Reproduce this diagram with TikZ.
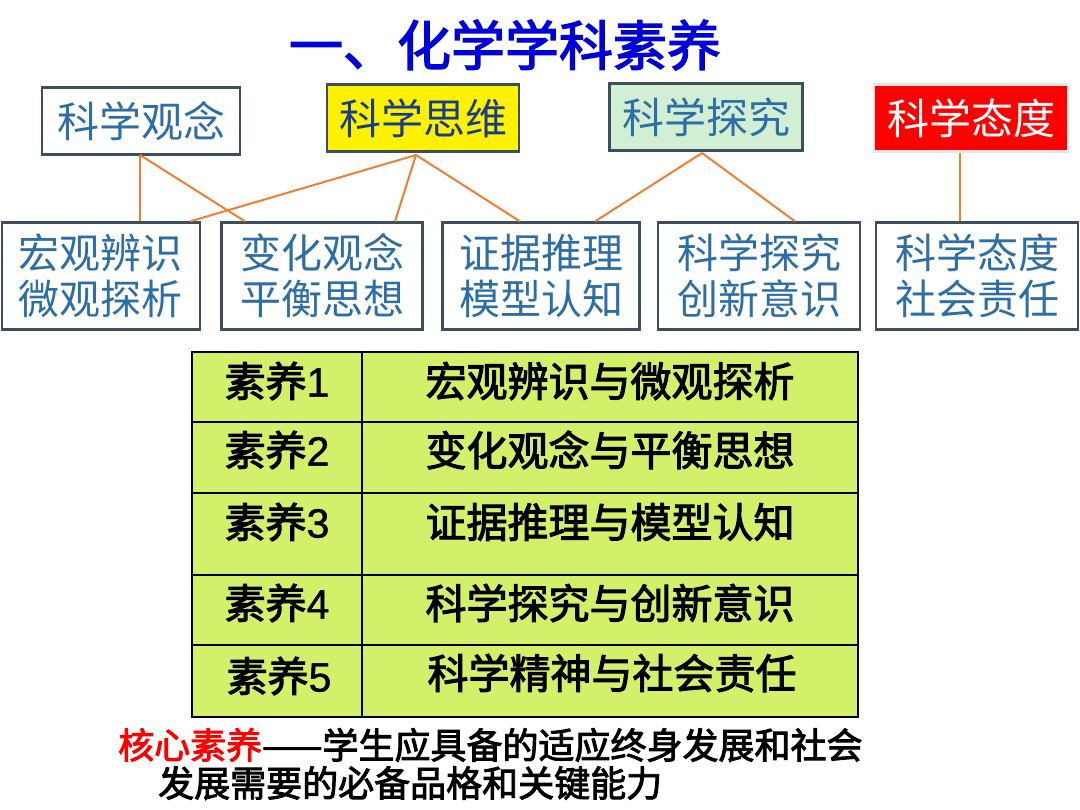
\documentclass[tikz,border=0pt]{standalone}
\usepackage{fontspec}
\setmainfont{Noto Sans CJK SC}[AutoFakeBold=2.5]
\newfontfamily\latinb{Liberation Sans}[AutoFakeBold=1]
\definecolor{tblue}{HTML}{2E6EA6}
\definecolor{dblue}{HTML}{1A3C8C}
\definecolor{org}{HTML}{F08030}
\definecolor{tbl}{HTML}{D2F06A}
\definecolor{lgreen}{HTML}{D3EFD3}
\definecolor{bord}{HTML}{3D4F5F}
\tikzset{
 box/.style={draw=bord,line width=2.2pt,minimum height=67pt,font=\fontsize{42}{44}\selectfont,inner sep=0pt},
 lbox/.style={draw=bord,line width=2.2pt,minimum height=107pt,font=\fontsize{41}{46}\selectfont,align=center,text=tblue,inner sep=0pt},
 ln/.style={org,line width=2pt},
 cell/.style={font=\fontsize{41}{43}\selectfont\bfseries,anchor=center}
}
\begin{document}
\begin{tikzpicture}[x=1pt,y=-1pt]
\useasboundingbox (0,0) rectangle (1080,810);
\fill[white] (0,0) rectangle (1080,810);
\node[text=blue!85!black,font=\fontsize{54}{56}\selectfont\bfseries] (title) at (505,45) {一、化学学科素养};
% top boxes
\node[box,fill=white,text=tblue,minimum width=198pt] (a) at (141,121) {科学观念};
\node[box,fill=yellow,text=dblue,minimum width=192pt] (b) at (423,118) {科学思维};
\node[box,fill=lgreen,text=tblue,minimum width=193pt] (c) at (706,117) {科学探究};
\node[box,fill=red,text=white,draw=white!80!gray,minimum width=194pt] (d) at (971,118) {科学态度};
% bottom boxes
\node[lbox,minimum width=198pt] (e) at (101,276) {宏观辨识\\微观探析};
\node[lbox,minimum width=201pt] (f) at (322,276) {变化观念\\平衡思想};
\node[lbox,minimum width=197pt] (g) at (541,276) {证据推理\\模型认知};
\node[lbox,minimum width=202pt] (h) at (759,276) {科学探究\\创新意识};
\node[lbox,minimum width=202pt] (i) at (977,276) {科学态度\\社会责任};
% connectors
\coordinate (ab) at (140,155); \coordinate (bb) at (416,155);
\coordinate (cb) at (702,153); \coordinate (db) at (960,153);
\draw[ln] (ab) -- (e.north -| ab);
\draw[ln] (ab) -- (f.north -| 245,0);
\draw[ln] (bb) -- (e.north -| 190,0);
\draw[ln] (bb) -- (f.north -| 395,0);
\draw[ln] (bb) -- (g.north -| 520,0);
\draw[ln] (cb) -- (g.north -| 595,0);
\draw[ln] (cb) -- (h.north -| 795,0);
\draw[ln] (db) -- (i.north -| db);
% table
\fill[tbl] (192,352) rectangle (858,717);
\draw[black,line width=1.2pt] (192,352) rectangle (858,717);
\foreach \yy in {422,493,575,645} \draw[black,line width=1.2pt] (192,\yy) -- (858,\yy);
\draw[black,line width=1.2pt] (362,352) -- (362,717);
\node[cell] (r1a) at (277,381) {素养{\latinb\bfseries 1}};
\node[cell] (r1b) at (610,381) {宏观辨识与微观探析};
\node[cell] (r2a) at (277,450) {素养{\latinb\bfseries 2}};
\node[cell] (r2b) at (610,450) {变化观念与平衡思想};
\node[cell] (r3a) at (277,522) {素养{\latinb\bfseries 3}};
\node[cell] (r3b) at (610,522) {证据推理与模型认知};
\node[cell] (r4a) at (277,603) {素养{\latinb\bfseries 4}};
\node[cell] (r4b) at (610,603) {科学探究与创新意识};
\node[cell] (r5a) at (279,676) {素养{\latinb\bfseries 5}};
\node[cell] (r5b) at (612,673) {科学精神与社会责任};
% footer
\node[anchor=west,font=\fontsize{36}{38}\selectfont\bfseries,inner sep=0pt] (f1) at (118,745) {\textcolor{red}{核心素养}——学生应具备的适应终身发展和社会};
\node[anchor=west,font=\fontsize{36}{38}\selectfont\bfseries,inner sep=0pt] (f2) at (158,783) {发展需要的必备品格和关键能力};
\end{tikzpicture}
\end{document}
